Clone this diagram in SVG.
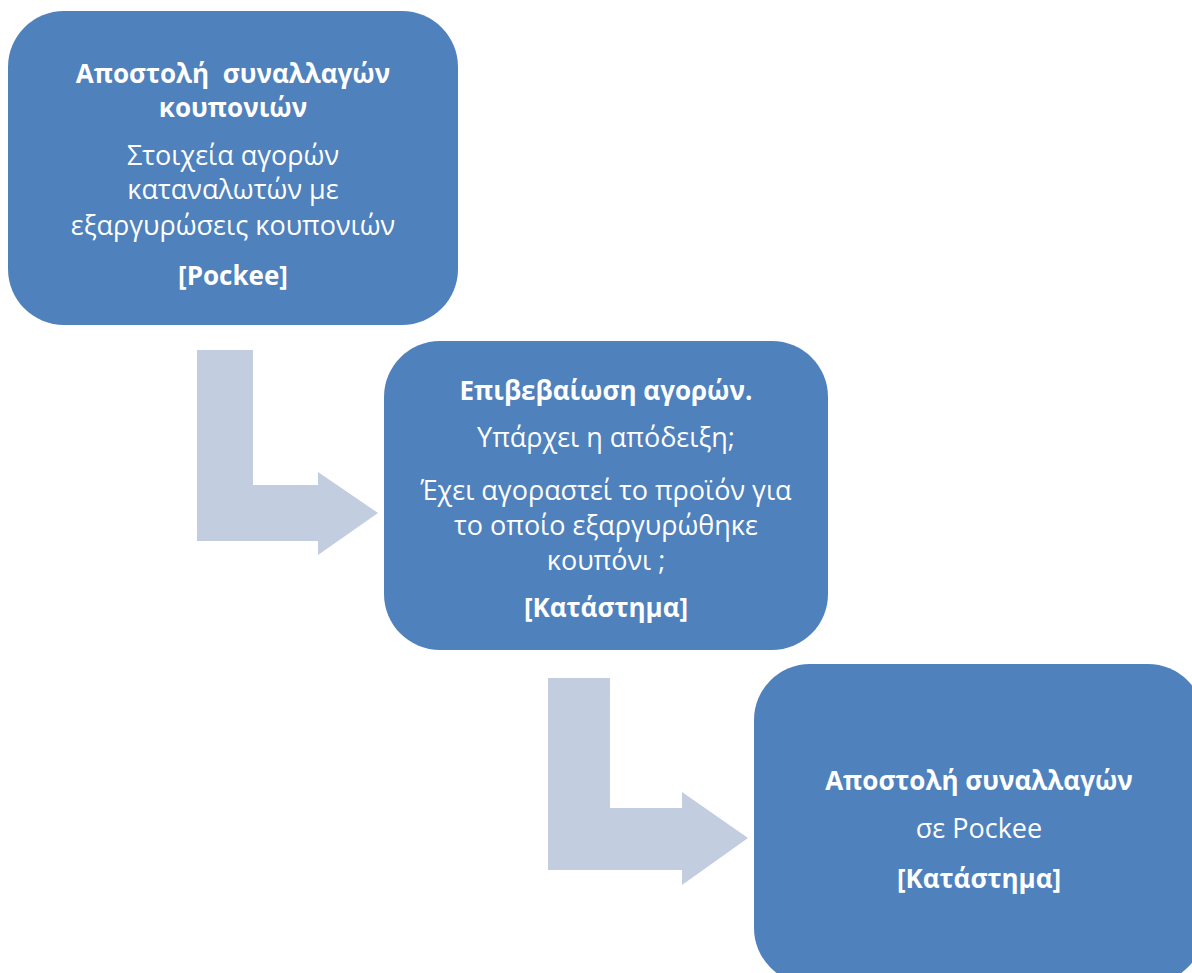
<svg xmlns="http://www.w3.org/2000/svg" width="1192" height="973" viewBox="0 0 1192 973">
<style>
.box{fill:#4F81BD}
.arr{fill:#C2CDE0}
text{font-family:"Open Sans","Noto Sans","Liberation Sans",sans-serif;fill:#FFFFFF;text-anchor:middle;font-size:27px}
.b{font-weight:bold;font-size:26px}
</style>
<rect width="1192" height="973" fill="#FFFFFF"/>
<g id="connectors">
<path class="arr" d="M197,350 H253 V485 H318 V472 L378,513 L318,555 V541 H197 Z"/>
<path class="arr" d="M548,678 H610 V808 H682 V792 L748,838 L682,885 V870 H548 Z"/>
</g>
<g id="node1">
<rect class="box" x="8" y="11" width="450" height="314" rx="56"/>
<text class="b" x="233" y="83">Αποστολή&#160; συναλλαγών</text>
<text class="b" x="233" y="117">κουπονιών</text>
<text x="233" y="165">Στοιχεία αγορών</text>
<text x="233" y="199">καταναλωτών με</text>
<text x="233" y="235">εξαργυρώσεις κουπονιών</text>
<text class="b" x="233" y="285">[Pockee]</text>
</g>
<g id="node2">
<rect class="box" x="384" y="341" width="444" height="309" rx="56"/>
<text class="b" x="606" y="400">Επιβεβαίωση αγορών.</text>
<text x="606" y="447">Υπάρχει η απόδειξη;</text>
<text x="606" y="500">Έχει αγοραστεί το προϊόν για</text>
<text x="606" y="535">το οποίο εξαργυρώθηκε</text>
<text x="606" y="570">κουπόνι ;</text>
<text class="b" x="606" y="617">[Κατάστημα]</text>
</g>
<g id="node3">
<rect class="box" x="754" y="664" width="450" height="320" rx="56"/>
<text class="b" x="979" y="790">Αποστολή συναλλαγών</text>
<text x="979" y="838">σε Pockee</text>
<text class="b" x="979" y="888">[Κατάστημα]</text>
</g>
</svg>
